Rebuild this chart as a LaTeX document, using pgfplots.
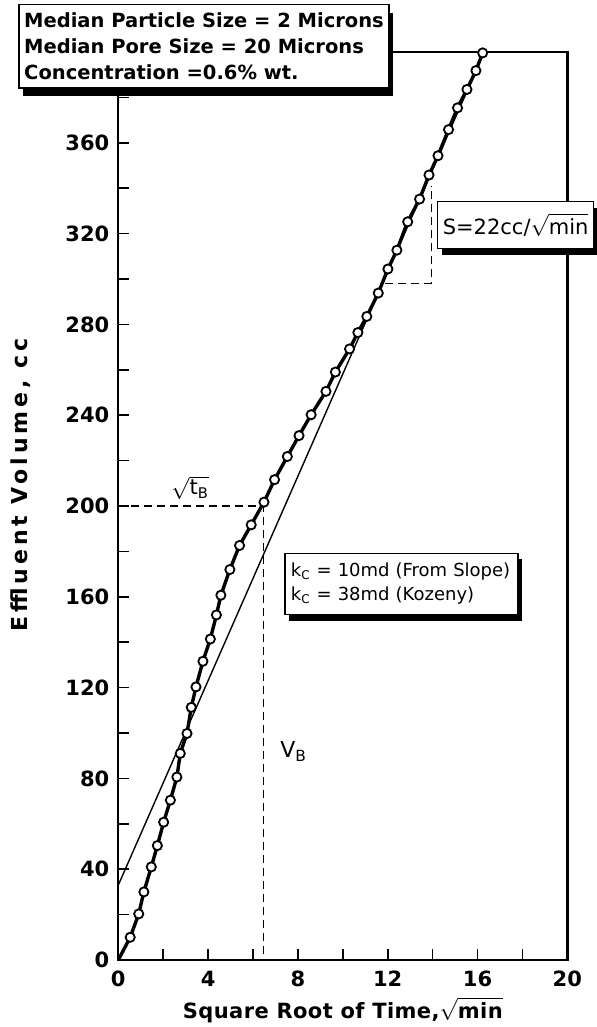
\documentclass[border=0pt]{standalone}
\usepackage{fontspec}
\setmainfont{DejaVu Sans}
\usepackage{pgfplots}
\pgfplotsset{compat=1.18}
\usetikzlibrary{shadows}

\begin{document}
\begin{tikzpicture}
\useasboundingbox (-59.15pt,-33.5pt) rectangle (238.85pt,480pt);
\begin{axis}[
  scale only axis, width=224.5pt, height=454pt,
  xmin=0, xmax=20, ymin=0, ymax=400,
  xtick={0,4,...,20}, minor xtick={2,6,...,18},
  ytick={0,40,...,360}, minor ytick={20,60,...,380},
  tick align=inside, tick pos=left,
  major tick length=5.5pt, minor tick length=5.5pt,
  tick style={black, line width=0.8pt},
  axis line style={line width=1.2pt},
  clip=false,
  /pgf/number format/assume math mode=true,
  tick label style={font=\bfseries\fontsize{10.5}{12}\selectfont},
  xticklabel style={yshift=-2pt},
  yticklabel style={xshift=-1pt},
  xlabel={Square Root of Time,$\sqrt{\mbox{min}}$},
  ylabel={Effluent Volume, cc},
  every axis x label/.style={at={(axis description cs:0.5,-0.0551)}, anchor=center, font=\bfseries\fontsize{10.5}{12}\selectfont\addfontfeature{LetterSpace=2}},
  every axis y label/.style={at={(axis description cs:-0.2165,0.523)}, rotate=90, anchor=center, font=\bfseries\fontsize{11}{12}\selectfont\addfontfeature{LetterSpace=18}},
]
% tangent line
\addplot[black, line width=0.7pt] coordinates {(0,33) (16.3,400)};
% dashed construction lines
\addplot[black, line width=0.6pt, dash pattern=on 4pt off 2.5pt] coordinates {(0,200) (6.45,200) (6.45,2)};
\addplot[black, line width=0.6pt, dash pattern=on 4pt off 2.5pt] coordinates {(11.9,298) (13.94,298) (13.94,341)};
% data curve
\addplot[black, line width=1.7pt] coordinates {(0,0) (0.53,10.0)};
\addplot[black, line width=1.7pt, mark=*, mark size=2.3pt, mark options={fill=white, draw=black, line width=0.9pt}] coordinates {
(0.53,10.0) (0.91,20.3) (1.14,30) (1.47,41) (1.74,50.4) (2.02,60.7) (2.32,70.4) (2.61,80.6) (2.76,91) (3.06,99.8)
(3.25,111.3) (3.46,120.3) (3.77,131.6) (4.10,141.4) (4.37,152) (4.57,160.7) (4.97,172) (5.40,182.6) (5.92,191.7) (6.49,201.7)
(6.96,211.6) (7.53,221.8) (8.05,231) (8.59,240.2) (9.25,250.5) (9.67,259) (10.30,269.2) (10.67,276.4) (11.07,283.5) (11.58,293.8)
(12.01,304.4) (12.41,312.7) (12.89,325.2) (13.42,335.2) (13.84,345.8) (14.24,354.3) (14.71,365.8) (15.11,375.4) (15.53,383.5) (15.93,391.8)
(16.23,399.6)};
% annotations
\node[font=\fontsize{10.5}{12}\selectfont] at (axis cs:3.2,208) {$\sqrt{\mbox{t\textsubscript{B}}}$};
\node[anchor=west, font=\fontsize{11}{12}\selectfont] at (axis cs:6.9,92) {V\textsubscript{B}};
\node[draw, fill=white, line width=0.7pt, anchor=north west, inner xsep=2.5pt, inner ysep=6pt, text width=73pt, align=left,
  drop shadow={shadow xshift=2pt, shadow yshift=-3.3pt, fill=black, opacity=1},
  font=\fontsize{10.5}{12}\selectfont] at (axis cs:14.2,334.4) {\mbox{S=22cc/$\sqrt{\mbox{min}}$}};
\node[draw, fill=white, line width=0.7pt, anchor=north west, inner xsep=3pt, inner ysep=5pt, text width=110.5pt, align=left,
  drop shadow={shadow xshift=2pt, shadow yshift=-3pt, fill=black, opacity=1},
  font=\fontsize{9}{12}\selectfont] at (axis cs:7.39,179.5) {\mbox{k\textsubscript{C} = 10md (From Slope)}\\\mbox{k\textsubscript{C} = 38md (Kozeny)}};
\node[draw, fill=white, line width=0.8pt, anchor=north west, inner xsep=2.5pt, inner ysep=4pt, align=left,
  drop shadow={shadow xshift=2pt, shadow yshift=-4pt, fill=black, opacity=1},
  font=\bfseries\fontsize{9.75}{13}\selectfont] at (axis cs:-4.45,421.2) {Median Particle Size = 2 Microns\\Median Pore Size = 20 Microns\\Concentration =0.6\% wt.};
\end{axis}
\end{tikzpicture}
\end{document}
